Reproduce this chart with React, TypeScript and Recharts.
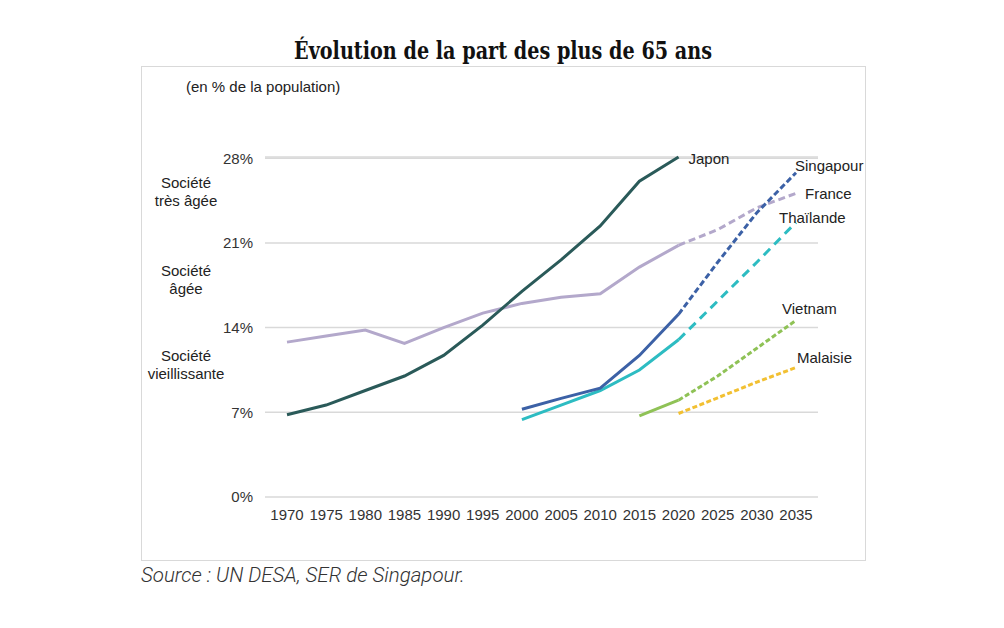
import { LineChart, Line, XAxis, YAxis, CartesianGrid } from 'recharts';

const years = [1970, 1975, 1980, 1985, 1990, 1995, 2000, 2005, 2010, 2015, 2020, 2025, 2030, 2035];
const japon = [6.8, 7.6, 8.8, 10.0, 11.7, 14.2, 17.0, 19.6, 22.4, 26.1, 28.1, null, null, null];
const france = [12.8, 13.3, 13.8, 12.7, 14.0, 15.2, 16.0, 16.5, 16.8, 19.0, 20.8, 22.1, 23.9, 25.1];
const singapour = [null, null, null, null, null, null, 7.25, 8.15, 9.0, 11.7, 15.1, 19.4, 23.5, 26.8];
const thailande = [null, null, null, null, null, null, 6.4, 7.6, 8.8, 10.5, 13.0, 16.2, 19.4, 22.7];
const vietnam = [null, null, null, null, null, null, null, null, null, 6.7, 8.0, 10.0, 12.3, 14.6];
const malaisie = [null, null, null, null, null, null, null, null, null, null, 6.9, 8.2, 9.5, 10.7];
const yTicks = [0, 7, 14, 21, 28];

const SPLIT_YEAR = 2020;

const data = years.map((year, i) => {
    const past = (v: number | null) => (year <= SPLIT_YEAR ? v : null);
    const proj = (v: number | null) => (year >= SPLIT_YEAR ? v : null);
    return {
        year,
        japon: japon[i],
        france: past(france[i]),
        franceP: proj(france[i]),
        singapour: past(singapour[i]),
        singapourP: proj(singapour[i]),
        thailande: past(thailande[i]),
        thailandeP: proj(thailande[i]),
        vietnam: past(vietnam[i]),
        vietnamP: proj(vietnam[i]),
        malaisieP: proj(malaisie[i]),
    };
});

const labelFont = { fontFamily: '"Liberation Sans", Arial, sans-serif', fontSize: 15, fill: '#222' };

// name shown at the last point of a series
const endLabel = (text: string, lastIndex: number, dx: number, dy: number) => (props: any) => {
    if (props.index !== lastIndex) return null;
    return (
        <text x={props.x + dx} y={props.y + dy} dominantBaseline="central" textAnchor="start" style={labelFont}>
            {text}
        </text>
    );
};

const last = years.length - 1;
const japonLast = years.indexOf(SPLIT_YEAR);

const sideNote = {
    position: 'absolute' as const,
    width: 120,
    textAlign: 'center' as const,
    fontFamily: '"Liberation Sans", Arial, sans-serif',
    fontSize: 15,
    lineHeight: '18px',
    color: '#222',
};

const App = () => {
    return (
        <div style={{ position: 'relative', width: 1004, height: 628, margin: -8, background: '#fff' }}>
            <svg style={{ position: 'absolute', left: 0, top: 0 }} width={1004} height={66}>
                <text
                    x={294}
                    y={59}
                    textLength={418}
                    lengthAdjust="spacingAndGlyphs"
                    style={{ fontFamily: '"DejaVu Serif", serif', fontWeight: 'bold', fontSize: 25, fill: '#111' }}
                >
                    Évolution de la part des plus de 65 ans
                </text>
            </svg>
            <div style={{ position: 'absolute', left: 141, top: 66, width: 723, height: 493, border: '1px solid #d9d9d9' }} />
            <div style={{ ...sideNote, left: 186, top: 78, width: 'auto', textAlign: 'left' }}>(en % de la population)</div>
            <div style={{ ...sideNote, left: 126, top: 174 }}>Société<br />très âgée</div>
            <div style={{ ...sideNote, left: 126, top: 262 }}>Société<br />âgée</div>
            <div style={{ ...sideNote, left: 126, top: 347 }}>Société<br />vieillissante</div>

            <div style={{ position: 'absolute', left: 0, top: 0 }}>
                <LineChart width={1004} height={628} data={data} margin={{ top: 157, right: 186, bottom: 101, left: 205 }}>
                    <CartesianGrid vertical={false} stroke="#d9d9d9" strokeWidth={1.5} />
                    <XAxis
                        dataKey="year"
                        type="number"
                        domain={[1967.19, 2037.81]}
                        ticks={years}
                        height={30}
                        axisLine={false}
                        tickLine={false}
                        tickSize={0}
                        tickMargin={12}
                        tick={{ ...labelFont, fill: '#333' }}
                        interval={0}
                    />
                    <YAxis
                        domain={[0, 28]}
                        ticks={yTicks}
                        width={60}
                        axisLine={false}
                        tickLine={false}
                        tickSize={0}
                        tickMargin={12}
                        tickFormatter={(v) => `${v}%`}
                        tick={{ ...labelFont, fill: '#333' }}
                    />

                    <Line dataKey="france" stroke="#b3a8cb" strokeWidth={3} dot={false} isAnimationActive={false} />
                    <Line dataKey="franceP" stroke="#b3a8cb" strokeWidth={3} strokeDasharray="7 4" dot={false} isAnimationActive={false} label={endLabel('France', last, 9, 0)} />
                    <Line dataKey="japon" stroke="#2a5a59" strokeWidth={3} dot={false} isAnimationActive={false} label={endLabel('Japon', japonLast, 10, 1)} />
                    <Line dataKey="thailande" stroke="#2dbcc2" strokeWidth={3} dot={false} isAnimationActive={false} />
                    <Line dataKey="thailandeP" stroke="#2dbcc2" strokeWidth={3} strokeDasharray="9 6" dot={false} isAnimationActive={false} label={endLabel('Thaïlande', last, -17, -5)} />
                    <Line dataKey="singapour" stroke="#3c61a6" strokeWidth={3} dot={false} isAnimationActive={false} />
                    <Line dataKey="singapourP" stroke="#3c61a6" strokeWidth={3} strokeDasharray="6 3" dot={false} isAnimationActive={false} label={endLabel('Singapour', last, -1, -7)} />
                    <Line dataKey="vietnam" stroke="#8fc256" strokeWidth={3} dot={false} isAnimationActive={false} />
                    <Line dataKey="vietnamP" stroke="#8fc256" strokeWidth={3} strokeDasharray="5 2.5" dot={false} isAnimationActive={false} label={endLabel('Vietnam', last, -14, -12)} />
                    <Line dataKey="malaisieP" stroke="#f2c032" strokeWidth={3} strokeDasharray="5 2.5" dot={false} isAnimationActive={false} label={endLabel('Malaisie', last, 1, -10)} />
                </LineChart>
            </div>

            <div
                style={{
                    position: 'absolute',
                    left: 141,
                    top: 563,
                    fontFamily: 'Roboto, sans-serif',
                    fontStyle: 'italic',
                    fontWeight: 300,
                    fontSize: 20.5,
                    color: '#333',
                }}
            >
                Source : UN DESA, SER de Singapour.
            </div>
        </div>
    );
};

export default App;
